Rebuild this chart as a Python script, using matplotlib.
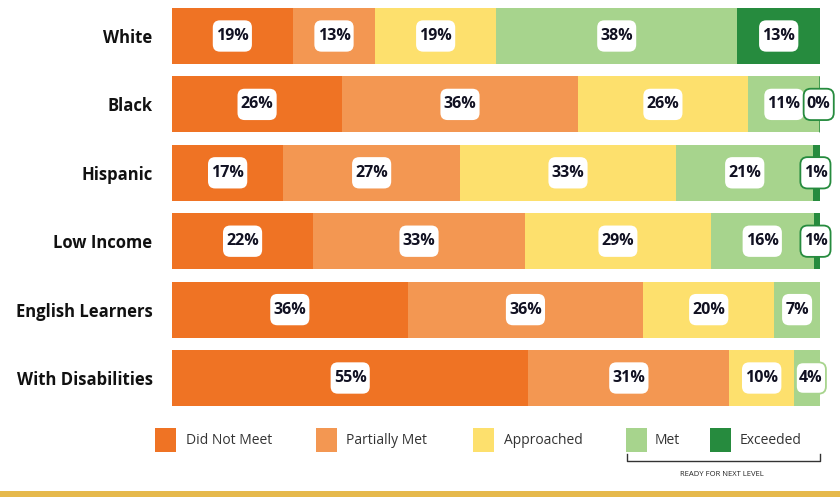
import matplotlib
matplotlib.use("Agg")
import matplotlib.pyplot as plt
from matplotlib.patches import Rectangle, BoxStyle
from matplotlib.lines import Line2D

plt.rcParams['font.family'] = ['Open Sans', 'DejaVu Sans']

groups = ["White", "Black", "Hispanic", "Low Income", "English Learners", "With Disabilities"]
levels = ["Did Not Meet", "Partially Met", "Approached", "Met", "Exceeded"]
did_not_meet = [19, 26, 17, 22, 36, 55]
partially_met = [13, 36, 27, 33, 36, 31]
approached = [19, 26, 33, 29, 20, 10]
met = [38, 11, 21, 16, 7, 4]
exceeded = [13, 0, 1, 1, None, None]
colors = ["#EF7324", "#F39752", "#FDE06D", "#A7D48D", "#268B3E"]

series = [did_not_meet, partially_met, approached, met, exceeded]

_round = BoxStyle.Round(pad=0, rounding_size=0.45)


def tall_round(x0, y0, width, height, mutation_size):
    padx = 0.2 * mutation_size
    pady = 0.48 * mutation_size
    return _round(x0 - padx, y0 - pady, width + 2 * padx, height + 2 * pady,
                  mutation_size)


W, H = 840, 497
fig = plt.figure(figsize=(W / 100, H / 100), dpi=100)
ax = fig.add_axes([172 / W, 1 - 412.2 / H, (820 - 172) / W, (412.2 - 1.8) / H])

for i, g in enumerate(groups):
    vals = [s[i] for s in series]
    total = sum(v for v in vals if v is not None)
    left = 0.0
    for j, v in enumerate(vals):
        if v is None:
            continue
        w = v / total * 100
        if v == 0:
            ax.barh(i, w, left=left, height=0.82, color=colors[j],
                    edgecolor=colors[j], linewidth=1.8)
        else:
            ax.barh(i, w, left=left, height=0.82, color=colors[j], linewidth=0)
        if v < 5:
            xpos = 98.6 if v >= 3 else left + w / 2 - 0.2
            ec = colors[j]
            lw = 1.3
        else:
            xpos = left + w / 2
            ec = "white"
            lw = 0
        ax.text(xpos, i, f"{v}%", ha="center", va="center", fontsize=11.5,
                fontweight="bold", color="#111122",
                bbox=dict(boxstyle=tall_round, fc="white", ec=ec, lw=lw),
                clip_on=False, zorder=5)
        left += w

ax.set_xlim(0, 100)
ax.set_ylim(len(groups) - 0.5, -0.5)
ax.set_yticks(range(len(groups)))
ax.set_yticklabels(groups, fontsize=12, fontweight="bold", color="#111111")
ax.tick_params(axis="y", length=0, pad=14)
ax.set_xticks([])
for sp in ax.spines.values():
    sp.set_visible(False)

# Legend (manual)
def fx(px):
    return px / W

def fy(py):
    return 1 - py / H

leg_sq = [155, 316, 473, 626, 710]
leg_tx = [186, 346, 504, 655, 740]
for j, lab in enumerate(levels):
    fig.add_artist(Rectangle((fx(leg_sq[j]), fy(452)), 21 / W, 24 / H,
                             transform=fig.transFigure, color=colors[j], lw=0))
    fig.text(fx(leg_tx[j]), fy(441), lab, ha="left", va="center",
             fontsize=10, color="#333333")

# bracket
bx0, bx1, by, bt = 627, 820, 461, 454
fig.add_artist(Line2D([fx(bx0), fx(bx0), fx(bx1), fx(bx1)],
                      [fy(bt), fy(by), fy(by), fy(bt)],
                      transform=fig.transFigure, color="#333333", lw=1.0))
fig.text(fx(722), fy(474), "READY FOR NEXT LEVEL", ha="center", va="center",
         fontsize=5.5, color="#222222")

# bottom gold rule
fig.add_artist(Rectangle((0, 0), 1, 6 / H, transform=fig.transFigure,
                         color="#E6B94C", lw=0))

fig.savefig("out.png", dpi=100)
